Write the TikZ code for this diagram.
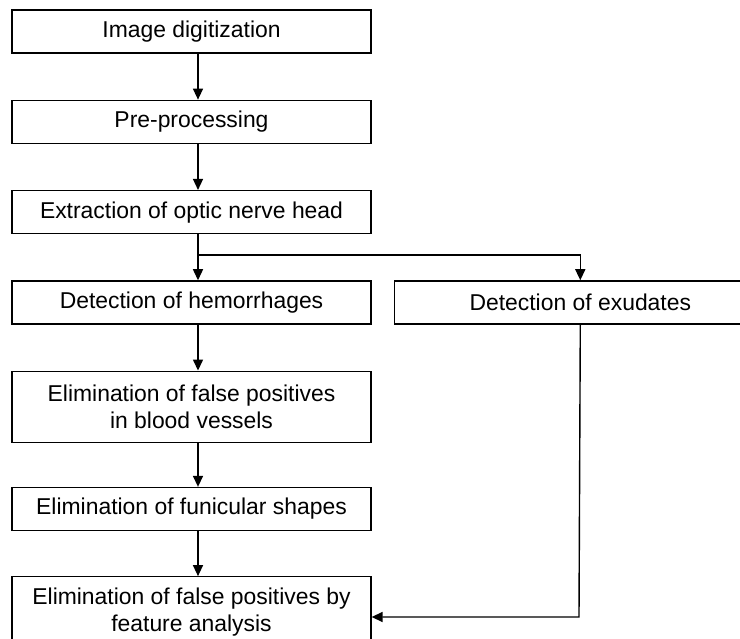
\documentclass[tikz,border=0pt]{standalone}
\usepackage{fontspec}
\setmainfont{Liberation Sans}
\usetikzlibrary{positioning,arrows.meta}

\begin{document}
\begin{tikzpicture}[x=1pt,y=1pt,node distance=46pt,
 b/.style={draw,line width=1.3pt,minimum width=359pt,minimum height=43pt,inner sep=0pt,align=center,font=\fontsize{22.9}{27}\selectfont},
 a/.style={-{Triangle[length=11pt,width=10pt]},line width=1.4pt}]
\useasboundingbox (0,0) rectangle (740,-639);
\clip (0,0) rectangle (740,-639);
\node[b] (dig) at (191.5,-31.5) {Image digitization};
\node[b,below=of dig] (pre) {Pre-processing};
\node[b,below=of pre] (onh) {Extraction of optic nerve head};
\node[b,below=of onh] (hem) {Detection of hemorrhages};
\node[b,minimum width=372pt,right=22pt of hem] (exu) {Detection of exudates};
\node[b,minimum height=71pt,below=of hem] (fpv) {Elimination of false positives\\in blood vessels};
\node[b,below=44pt of fpv] (fun) {Elimination of funicular shapes};
\node[b,minimum height=71pt,below=45pt of fun] (fea) {Elimination of false positives by\\feature analysis};
\coordinate (spine) at (198,0);
\coordinate (fork) at (198,-255);
\coordinate (back) at (579,-617);
\draw[a] (dig.south -| spine) -- (pre.north -| spine);
\draw[a] (pre.south -| spine) -- (onh.north -| spine);
\draw[line width=1.4pt] (onh.south -| spine) -- (fork);
\draw[a] (fork) -- (hem.north -| spine);
\draw[a] (fork) -| (exu.north);
\draw[a] (hem.south -| spine) -- (fpv.north -| spine);
\draw[a] (fpv.south -| spine) -- (fun.north -| spine);
\draw[a] (fun.south -| spine) -- (fea.north -| spine);
\draw[a] (exu.south) -- (back) -- (back -| fea.east);
\end{tikzpicture}
\end{document}
